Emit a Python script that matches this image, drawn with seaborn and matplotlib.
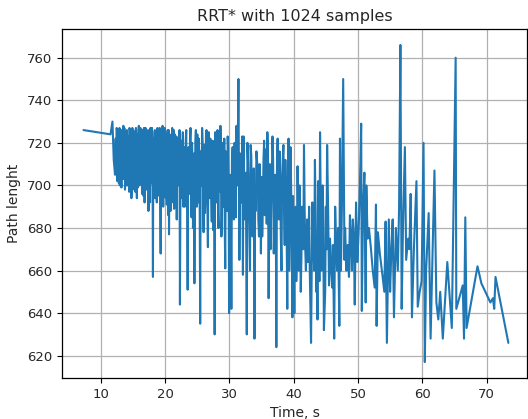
import matplotlib
matplotlib.use("Agg")
import matplotlib.pyplot as plt
import seaborn as sns
import pandas as pd

title = "RRT* with 1024 samples"
x_label = "Time, s"
y_label = "Path lenght"

t_start = [7.3, 11.5, 11.8, 12.0, 12.2]
l_start = [726, 724, 730, 712, 705]

t_dense1 = [12.3, 12.4, 12.5, 12.6, 12.7, 12.8, 12.9, 13.0, 13.1, 13.2, 13.3, 13.4, 13.5,
            13.6, 13.7, 13.8, 13.9, 14.0, 14.1, 14.2, 14.3, 14.4, 14.5, 14.6, 14.7, 14.8,
            14.9, 15.0, 15.1, 15.2, 15.3, 15.4, 15.5, 15.6, 15.7, 15.8, 15.9, 16.0]
l_dense1 = [722, 708, 726, 704, 718, 701, 727, 710, 724, 699, 721, 706, 728,
            703, 716, 708, 725, 700, 719, 711, 723, 697, 726, 709, 720, 702,
            727, 705, 717, 698, 724, 710, 726, 694, 721, 707, 728, 700]

t_dense1b = [12.35, 12.45, 12.55, 12.65, 12.75, 12.85, 12.95, 13.05, 13.15, 13.25, 13.35,
             13.45, 13.55, 13.65, 13.75, 13.85, 13.95, 14.05, 14.15, 14.25, 14.35, 14.45,
             14.55, 14.65, 14.75, 14.85, 14.95, 15.05, 15.15, 15.25, 15.35, 15.45, 15.55,
             15.65, 15.75, 15.85, 15.95]
l_dense1b = [715, 727, 702, 723, 709, 725, 700, 719, 706, 726, 703,
             722, 711, 727, 698, 720, 704, 726, 700, 718, 706, 727,
             701, 723, 694, 719, 708, 726, 703, 721, 697, 727, 705,
             724, 699, 718, 710]

t_dense2 = [16.1, 16.2, 16.3, 16.4, 16.5, 16.6, 16.7, 16.8, 16.9, 17.0, 17.1, 17.2, 17.3,
            17.4, 17.5, 17.6, 17.7, 17.8, 17.9, 18.0, 18.1, 18.2, 18.3, 18.4, 18.5, 18.6,
            18.7, 18.8, 18.9, 19.0, 19.1, 19.2, 19.3, 19.4, 19.5, 19.6, 19.7, 19.8, 19.9,
            20.0, 20.1, 20.2, 20.3, 20.4, 20.5, 20.6, 20.7, 20.8, 20.9, 21.0, 21.1, 21.2,
            21.3, 21.4, 21.5, 21.6, 21.7, 21.8, 21.9]
l_dense2 = [719, 703, 726, 696, 722, 709, 727, 692, 718, 705, 725, 699, 720,
            688, 724, 707, 727, 701, 715, 719, 657, 722, 697, 726, 704, 721,
            692, 727, 700, 718, 695, 724, 668, 720, 703, 728, 690, 717, 706,
            725, 694, 721, 699, 726, 686, 677, 719, 702, 723, 693, 727, 698,
            716, 689, 724, 705, 720, 684, 718]

t_dense2b = [16.15, 16.25, 16.35, 16.45, 16.55, 16.65, 16.75, 16.85, 16.95, 17.05, 17.15,
             17.25, 17.35, 17.45, 17.55, 17.65, 17.75, 17.85, 17.95, 18.05, 18.15, 18.25,
             18.35, 18.45, 18.55, 18.65, 18.75, 18.85, 18.95, 19.05, 19.15, 19.25, 19.35,
             19.45, 19.55, 19.65, 19.75, 19.85, 19.95, 20.05, 20.15, 20.25, 20.35, 20.45,
             20.55, 20.65, 20.75, 20.85, 20.95, 21.05, 21.15, 21.25, 21.35, 21.45, 21.55,
             21.65, 21.75, 21.85, 21.95]
l_dense2b = [727, 705, 721, 700, 726, 695, 719, 708, 727, 698, 722,
             704, 726, 696, 718, 692, 723, 706, 727, 699, 716, 703,
             725, 694, 720, 708, 726, 697, 722, 704, 727, 690, 718,
             700, 724, 706, 721, 695, 727, 702, 719, 691, 723, 707,
             726, 696, 718, 688, 724, 705, 720, 692, 726, 703, 717,
             697, 723, 700, 712]

t_mid1 = [22.0, 22.15, 22.3, 22.45, 22.6, 22.75, 22.9, 23.05, 23.2, 23.35, 23.5, 23.65,
          23.8, 23.95, 24.1, 24.25, 24.4, 24.55, 24.7, 24.85, 25.0, 25.15, 25.3, 25.45,
          25.6, 25.75, 25.9, 26.05, 26.2, 26.35, 26.5, 26.65, 26.8, 26.95, 27.1, 27.25,
          27.4, 27.55, 27.7, 27.85, 28.0, 28.15, 28.3, 28.45, 28.6, 28.75, 28.9, 29.05,
          29.2, 29.35, 29.5, 29.65, 29.8, 29.95]
l_mid1 = [722, 700, 644, 716, 694, 725, 703, 690, 721, 697, 651, 718,
          706, 727, 685, 712, 699, 654, 720, 702, 724, 692, 715, 635,
          710, 727, 696, 719, 687, 723, 700, 671, 725, 694, 713, 683,
          721, 698, 630, 717, 692, 726, 680, 709, 728, 676, 714, 690,
          722, 661, 705, 688, 718, 640]

t_mid1b = [22.08, 22.23, 22.38, 22.53, 22.68, 22.83, 22.98, 23.13, 23.28, 23.43, 23.58,
           23.73, 23.88, 24.03, 24.18, 24.33, 24.48, 24.63, 24.78, 24.93, 25.08, 25.23,
           25.38, 25.53, 25.68, 25.83, 25.98, 26.13, 26.28, 26.43, 26.58, 26.73, 26.88,
           27.03, 27.18, 27.33, 27.48, 27.63, 27.78, 27.93, 28.08, 28.23, 28.38, 28.53,
           28.68, 28.83, 28.98, 29.13, 29.28, 29.43, 29.58, 29.73, 29.88]
l_mid1b = [712, 726, 698, 721, 704, 690, 718, 700, 726, 688, 713,
           696, 723, 705, 720, 680, 715, 698, 726, 690, 709, 722,
           686, 716, 700, 720, 678, 711, 697, 726, 689, 712, 702,
           722, 694, 715, 679, 706, 725, 699, 717, 688, 722, 697,
           711, 684, 720, 703, 678, 716, 694, 723, 700]

t_mid2 = [30.1, 30.3, 30.5, 30.7, 30.9, 31.1, 31.25, 31.4, 31.55, 31.7, 31.9, 32.1,
          32.2, 32.4, 32.55, 32.7, 32.9, 33.1, 33.3, 33.5, 33.7, 33.9, 34.1, 34.4,
          34.6, 34.8, 35.1, 35.3, 35.5, 35.7, 35.9, 36.1, 36.3, 36.5, 36.7, 36.9,
          37.1, 37.3, 37.5, 37.7, 37.9, 38.1, 38.4, 38.6, 38.8, 39.0, 39.2, 39.4,
          39.6, 39.8]
l_mid2 = [705, 642, 718, 684, 712, 728, 700, 750, 665, 715, 692, 658,
          723, 698, 706, 630, 711, 681, 719, 694, 702, 628, 688, 707,
          676, 699, 676, 712, 686, 717, 725, 647, 710, 690, 723, 668,
          705, 624, 722, 684, 700, 660, 719, 672, 695, 642, 722, 680,
          700, 638]

t_mid2b = [30.2, 30.4, 30.6, 30.8, 31.0, 31.8, 32.0, 32.3, 32.8, 33.0, 33.2, 33.4,
           33.6, 33.8, 34.0, 34.2, 34.5, 34.7, 34.9, 35.0, 35.2, 35.4, 35.6, 35.8,
           36.0, 36.2, 36.4, 36.6, 36.8, 37.0, 37.2, 37.4, 37.6, 37.8, 38.0, 38.2,
           38.5, 38.7, 38.9, 39.1, 39.3, 39.5, 39.7, 39.9]
l_mid2b = [695, 712, 690, 720, 685, 706, 723, 684, 720, 698, 660, 714,
           676, 708, 694, 716, 684, 710, 668, 704, 690, 721, 698, 682,
           715, 694, 670, 705, 712, 683, 697, 710, 692, 716, 676, 705,
           690, 712, 680, 700, 660, 718, 675, 695]

t_mid3 = [40.0, 40.1, 40.3, 40.5, 40.6, 40.8, 41.0, 41.2, 41.4, 41.6, 41.8, 42.0,
          42.2, 42.4, 42.7, 42.9, 43.1, 43.3, 43.5, 43.7, 43.8, 44.1, 44.3, 44.5,
          44.7, 45.0, 45.2, 45.5, 45.8, 46.1, 46.3, 46.6, 46.9, 47.1, 47.2, 47.5,
          47.7, 47.9, 48.2, 48.6, 48.9, 49.2, 49.5, 49.7, 49.9, 50.1]
l_mid3 = [665, 640, 690, 670, 709, 660, 680, 666, 686, 719, 670, 676,
          664, 690, 626, 692, 668, 712, 650, 637, 702, 725, 660, 700,
          632, 690, 719, 653, 662, 672, 628, 673, 680, 634, 722, 690,
          750, 665, 660, 657, 675, 684, 644, 692, 664, 678]

t_mid3b = [40.2, 40.4, 40.7, 40.9, 41.1, 41.3, 41.5, 41.7, 41.9, 42.1, 42.3, 42.5,
           43.0, 43.2, 43.4, 43.6, 44.0, 44.2, 44.4, 44.6, 44.9, 45.1, 45.35, 45.65,
           46.0, 46.45, 46.75, 47.35, 48.0, 48.4, 48.75, 49.05, 49.35, 49.8]
l_mid3b = [676, 655, 685, 700, 650, 690, 670, 690, 660, 684, 672, 660,
           680, 660, 690, 672, 655, 690, 675, 682, 650, 670, 690, 675,
           652, 690, 660, 660, 680, 672, 686, 660, 676, 680]

t_late1 = [50.3, 50.5, 50.6, 50.8, 51.0, 51.2, 51.3, 51.5, 51.7, 52.0, 52.3, 52.6,
           52.8, 52.9, 53.1, 53.4, 53.8, 54.1, 54.3, 54.5, 54.8, 55.0, 55.2, 55.4,
           55.6, 55.9, 56.2, 56.4, 56.6, 56.8, 57.0, 57.3, 57.5, 57.8, 58.0, 58.2,
           58.4, 58.7, 59.1, 59.3, 59.6, 59.9, 60.2, 60.4]
l_late1 = [700, 729, 641, 690, 706, 645, 700, 675, 680, 671, 660, 652,
           691, 634, 678, 668, 658, 650, 683, 626, 684, 650, 670, 684,
           638, 680, 660, 690, 766, 642, 680, 718, 665, 675, 670, 696,
           638, 670, 702, 643, 650, 655, 720, 617]

t_late2 = [60.6, 61.0, 61.3, 61.9, 62.2, 62.5, 62.8, 63.2, 63.9, 64.6, 65.2, 65.3,
           66.3, 66.5, 66.7, 66.9, 68.6, 69.2, 70.6, 71.0, 71.2, 71.4, 73.4]
l_late2 = [660, 687, 628, 707, 645, 637, 650, 628, 664, 633, 760, 642,
           653, 628, 685, 633, 662, 654, 645, 647, 642, 657, 626]

times = (t_start + t_dense1 + t_dense1b + t_dense2 + t_dense2b + t_mid1 + t_mid1b
         + t_mid2 + t_mid2b + t_mid3 + t_mid3b + t_late1 + t_late2)
lengths = (l_start + l_dense1 + l_dense1b + l_dense2 + l_dense2b + l_mid1 + l_mid1b
           + l_mid2 + l_mid2b + l_mid3 + l_mid3b + l_late1 + l_late2)
df = pd.DataFrame({"time": times, "length": lengths}).sort_values("time")

sns.set_style("white")
plt.rcParams["font.family"] = ["DejaVu Sans"]

fig = plt.figure(figsize=(5.28, 4.19), dpi=100)
ax = fig.add_axes([62 / 528, 1 - 378 / 419, 465 / 528, 349 / 419])
sns.lineplot(data=df, x="time", y="length", ax=ax, estimator=None, sort=False,
             color="#1f77b4", linewidth=1.5)
ax.set_xlim(3.95, 76.3)
ax.set_ylim(609.5, 773.5)
ax.set_xticks([10, 20, 30, 40, 50, 60, 70])
ax.set_yticks([620, 640, 660, 680, 700, 720, 740, 760])
ax.grid(True, color="#b0b0b0", linewidth=0.9)
ax.set_axisbelow(True)
for s in ax.spines.values():
    s.set_color("black")
    s.set_linewidth(0.9)
ax.tick_params(axis="both", which="major", labelsize=9.5, length=3.5, width=0.8,
               direction="out", color="black", bottom=True, left=True)
ax.set_title(title, fontsize=11.5)
ax.set_xlabel(x_label, fontsize=10)
ax.set_ylabel(y_label, fontsize=10)
fig.savefig("out.png", dpi=100)
